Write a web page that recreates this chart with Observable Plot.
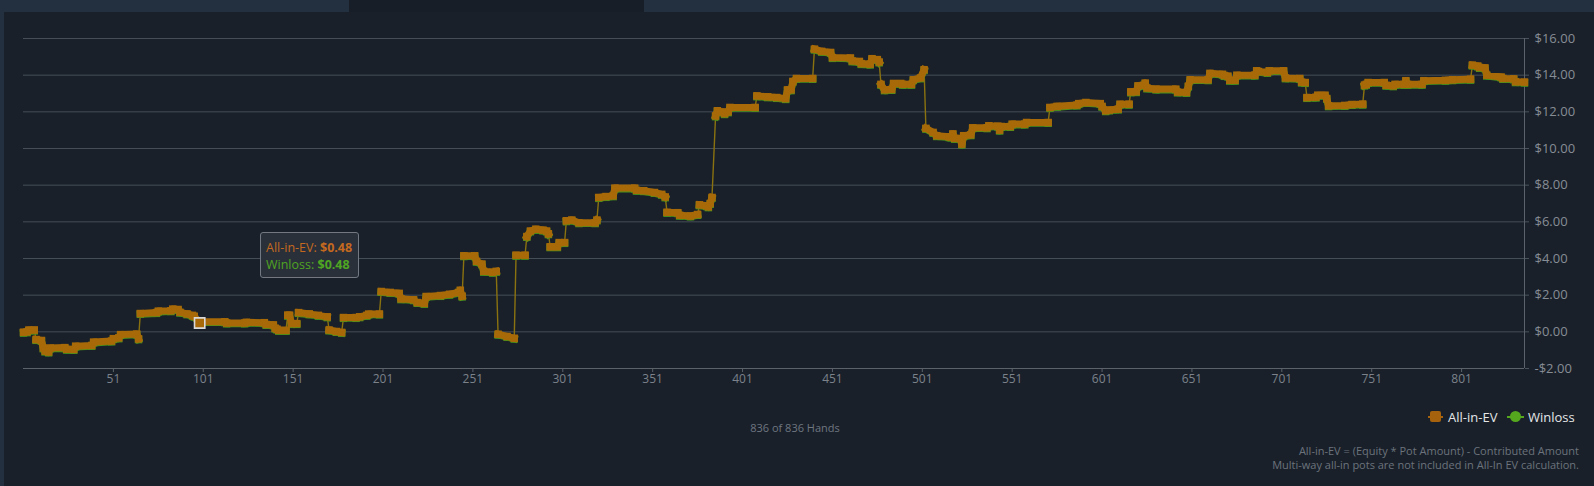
<!DOCTYPE html>
<html>
<head>
<meta charset="utf-8">
<script src="https://cdn.jsdelivr.net/npm/d3@7"></script>
<script src="https://cdn.jsdelivr.net/npm/@observablehq/plot@0.6"></script>
<style>
  html, body { margin: 0; padding: 0; }
  body { width: 1594px; height: 486px; overflow: hidden; background: #22303f; font-family: "Open Sans", sans-serif; position: relative; }
  #strip { position: absolute; left: 0; top: 0; width: 1594px; height: 12px; background: #22303f; }
  #tab { position: absolute; left: 349px; top: 0; width: 295px; height: 12px; background: #171e27; }
  #panel { position: absolute; left: 4px; top: 12px; width: 1590px; height: 474px; background: #19202a; }
  #chart svg { display: block; }
  #below { position: relative; width: 1590px; height: 96px; }
  #hands { position: absolute; left: 0; width: 1582px; top: 31px; line-height: 14px; font-size: 11px; color: #6f7680; text-align: center; }
  .leg { position: absolute; top: 20px; line-height: 14px; font-size: 13px; color: #e4e6e8; }
  .sym { position: absolute; }
  #foot { position: absolute; right: 15px; top: 54px; text-align: right; font-size: 11px; line-height: 14px; color: #6c737c; }
  #tip { position: absolute; left: 256px; top: 220px; width: 99px; height: 46px; box-sizing: border-box; background: #2a3039; border: 1px solid #737881; border-radius: 3px; font-size: 12.5px; line-height: 17px; padding: 6px 0 0 5px; white-space: nowrap; }
  #tip .ev { color: #c4691f; }
  #tip .wl { color: #4fa623; }
  #tip b { font-weight: 700; }
</style>
</head>
<body>
<div id="strip"></div>
<div id="tab"></div>
<div id="panel">
  <div id="chart"></div>
  <div id="below">
    <div id="hands">836 of 836 Hands</div>
    <div class="sym" style="left:1424px; top:26px; width:15px; height:2px; background:#a6620c;"></div>
    <div class="sym" style="left:1426px; top:21px; width:11px; height:11px; border-radius:2px; background:#a6620c;"></div>
    <div class="leg" style="left:1444px;">All-in-EV</div>
    <div class="sym" style="left:1503px; top:26px; width:17px; height:2px; background:#55a81e;"></div>
    <div class="sym" style="left:1506px; top:21px; width:11px; height:11px; border-radius:50%; background:#55a81e;"></div>
    <div class="leg" style="left:1524px;">Winloss</div>
    <div id="foot">All-in-EV = (Equity * Pot Amount) - Contributed Amount<br>Multi-way all-in pots are not included in All-In EV calculation.</div>
  </div>
  <div id="tip"><div class="ev">All-in-EV: <b>$0.48</b></div><div class="wl">Winloss: <b>$0.48</b></div></div>
</div>
<script>
// Hand numbers and cumulative All-in-EV ($)
const hands = [1,3,4,7,8,11,12,13,15,16,24,25,29,30,39,40,50,51,54,55,64,65,66,75,76,83,84,87,88,92,95,96,99,100,113,114,124,125,135,136,140,141,142,143,147,148,149,150,153,154,160,165,170,171,175,178,179,186,188,192,193,199,200,205,210,211,218,220,224,225,233,238,243,244,245,246,252,253,256,257,262,264,265,270,274,275,280,281,283,286,290,292,293,294,298,299,302,303,306,310,319,320,321,325,329,330,341,342,346,352,356,358,359,365,366,372,376,377,381,382,383,384,386,387,389,391,393,394,408,409,415,420,425,426,428,429,431,440,441,445,450,451,461,462,466,467,472,473,476,477,478,480,484,485,489,490,495,496,500,502,503,507,509,516,517,518,519,522,523,524,528,529,537,538,543,544,545,550,551,558,559,571,572,576,587,588,592,600,601,603,605,610,611,616,617,620,621,624,625,626,631,642,643,648,649,650,660,661,668,669,671,672,675,676,686,687,688,693,694,702,703,711,712,714,715,720,721,725,726,727,736,740,746,747,748,749,758,759,763,764,769,770,771,779,780,792,796,806,807,810,811,814,815,823,824,830,831,836];
const allInEV = [-0.02,0.0,0.1,0.1,-0.42,-0.47,-0.88,-1.05,-1.1,-0.88,-0.86,-0.95,-0.96,-0.78,-0.74,-0.56,-0.5,-0.37,-0.33,-0.15,-0.12,-0.38,1.0,1.05,1.13,1.15,1.24,1.22,1.07,0.98,0.9,0.85,0.48,0.55,0.55,0.48,0.48,0.52,0.5,0.4,0.38,0.2,0.15,0.08,0.08,0.91,0.91,0.45,0.45,1.05,0.98,0.9,0.82,0.1,0.02,-0.03,0.78,0.78,0.82,0.9,0.97,0.97,2.2,2.15,2.1,1.8,1.75,1.6,1.55,1.93,1.98,2.05,2.15,2.27,1.95,4.15,4.15,3.85,3.7,3.3,3.25,3.3,-0.13,-0.25,-0.35,4.18,4.18,5.2,5.5,5.6,5.55,5.5,5.35,4.64,4.64,4.87,4.87,6.06,6.1,5.95,5.95,6.1,7.33,7.38,7.42,7.84,7.84,7.72,7.7,7.6,7.5,7.36,6.52,6.5,6.36,6.32,6.4,6.93,6.88,6.82,7.0,7.33,11.78,12.06,12.0,11.9,12.0,12.24,12.24,12.87,12.82,12.78,12.72,13.2,13.2,13.66,13.82,13.82,15.42,15.3,15.24,14.96,14.94,14.78,14.75,14.63,14.6,14.9,14.85,14.72,13.5,13.2,13.22,13.55,13.55,13.5,13.5,13.75,13.85,14.3,11.1,10.88,10.7,10.64,10.62,10.8,10.55,10.55,10.24,10.7,10.75,11.13,11.13,11.24,11.22,11.0,11.2,11.2,11.33,11.33,11.42,11.42,12.24,12.3,12.37,12.45,12.51,12.45,12.3,12.06,12.1,12.15,12.42,12.42,13.09,13.1,13.42,13.45,13.57,13.3,13.24,13.24,13.08,13.06,13.4,13.75,13.75,14.1,14.05,13.98,13.95,13.72,13.72,14.0,14.0,14.24,14.2,14.15,14.24,14.24,13.85,13.82,13.62,13.6,12.78,12.8,12.91,12.91,12.73,12.33,12.35,12.4,12.42,13.46,13.5,13.6,13.6,13.45,13.42,13.5,13.5,13.7,13.5,13.5,13.7,13.72,13.75,13.78,14.55,14.5,14.42,14.4,14.0,13.9,13.82,13.8,13.64,13.62];
// Winloss shown identical to All-in-EV (tooltip: both $0.48)
const winloss = allInEV.slice();
// Hovered hand
const hoverHand = [99];
const hoverValue = [0.48];
// Axis ticks
const xTicks = [51,101,151,201,251,301,351,401,451,501,551,601,651,701,751,801];
const yTicks = [-2,0,2,4,6,8,10,12,14,16];

const ORANGE = "#a86a08", GREEN = "#4a921a", CONNECT = "#8a7210";

let seg = 0;
const rows = hands.map((h, i) => {
  if (i > 0 && Math.abs(allInEV[i] - allInEV[i - 1]) > 0.5) seg++;
  return {h, ev: allInEV[i], wl: winloss[i], seg};
});
const hover = hoverHand.map((h, i) => ({h, v: hoverValue[i]}));
const money = v => (v < 0 ? "-" : "") + "$" + Math.abs(v).toFixed(2);

const chart = Plot.plot({
  width: 1590,
  height: 378,
  marginLeft: 19,
  marginRight: 70,
  marginTop: 26,
  marginBottom: 22,
  style: {background: "transparent", fontFamily: "Open Sans, sans-serif", overflow: "visible"},
  x: {domain: [1, 836]},
  y: {domain: [-2, 16]},
  marks: [
    Plot.ruleY(yTicks.filter(t => t > -2), {stroke: "#454d57", strokeWidth: 1}),
    Plot.ruleY([-2], {stroke: "#5c626a", strokeWidth: 1}),
    Plot.ruleX([836], {stroke: "#5c626a", strokeWidth: 1}),
    Plot.axisY({anchor: "right", ticks: yTicks, tickSize: 4, tickPadding: 6, tickFormat: money, fontSize: 13, fill: "#878d95", stroke: "#4a525c", label: null}),
    Plot.axisX({ticks: xTicks, tickSize: 4, tickPadding: 1.5, tickFormat: d => String(d), fontSize: 12, fill: "#7c828a", stroke: "#5c626a", label: null}),
    Plot.line(rows, {x: "h", y: "wl", stroke: CONNECT, strokeWidth: 1.4}),
    Plot.line(rows, {x: "h", y: "wl", z: "seg", stroke: GREEN, strokeWidth: 7, strokeLinecap: "square", strokeLinejoin: "round", dy: 0.8}),
    Plot.dot(rows, {x: "h", y: "wl", symbol: "square", r: 4.2, fill: GREEN, dy: 0.8}),
    Plot.line(rows, {x: "h", y: "ev", z: "seg", stroke: ORANGE, strokeWidth: 7, strokeLinecap: "square", strokeLinejoin: "round"}),
    Plot.dot(rows, {x: "h", y: "ev", symbol: "square", r: 4.2, fill: ORANGE}),
    Plot.dot(hover, {x: "h", y: "v", symbol: "square", r: 5.8, fill: ORANGE, stroke: "#d9d9d9", strokeWidth: 1.6})
  ]
});
document.getElementById("chart").appendChild(chart);
</script>
</body>
</html>
